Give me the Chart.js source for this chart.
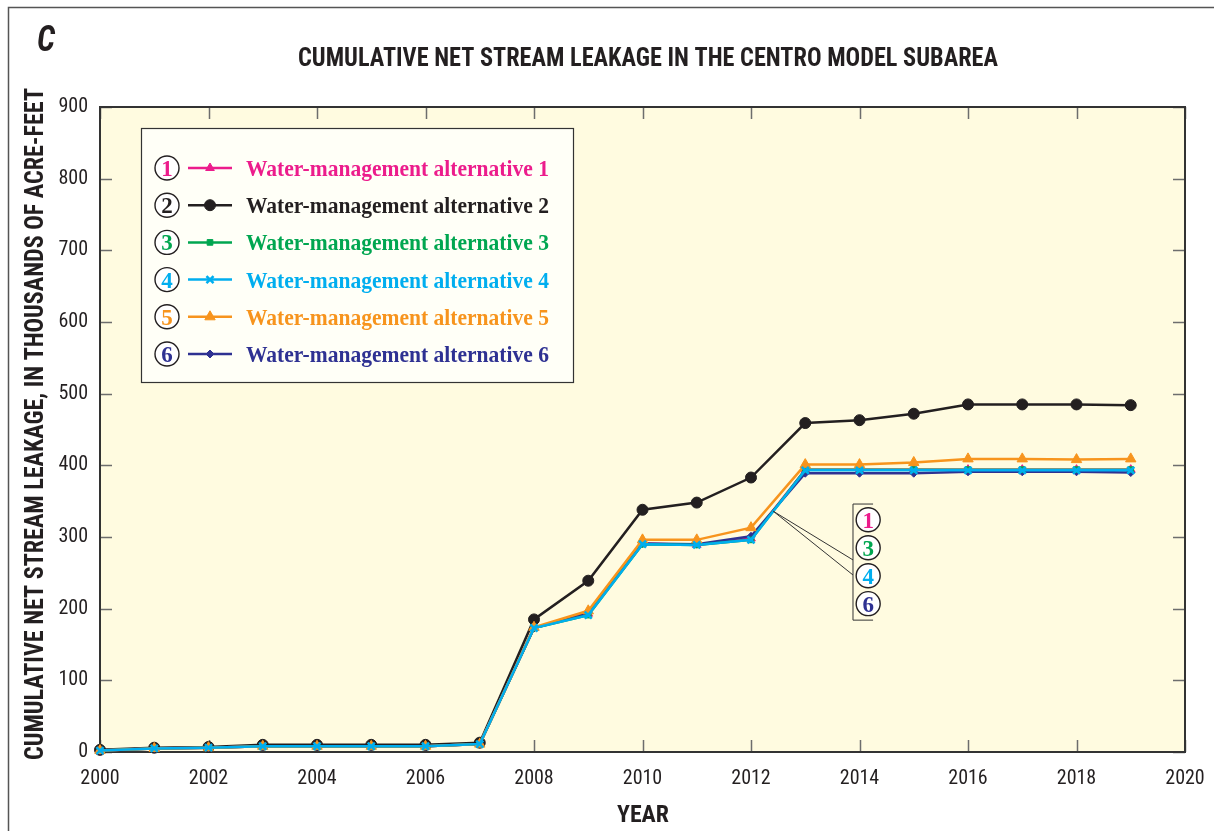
<!DOCTYPE html>
<html>
<head>
<meta charset="utf-8">
<script src="https://cdn.jsdelivr.net/npm/chart.js@4/dist/chart.umd.min.js"></script>
<style>
  html, body { margin: 0; padding: 0; background: #ffffff; }
  #wrap { width: 1214px; height: 831px; position: relative; }
</style>
</head>
<body>
<div id="wrap"><canvas id="c" width="1214" height="831"></canvas></div>
<script>
// ---------------- DATA ----------------
const years = [2000,2001,2002,2003,2004,2005,2006,2007,2008,2009,2010,2011,2012,2013,2014,2015,2016,2017,2018,2019];
const alt1 = [2,5,6,8,8,8,8,11,173,193,291,289,298,394,394,394,394,394,394,394];
const alt2 = [3,6,7,10,10,10,10,13,185,239,338,348,383,459,463,472,485,485,485,484];
const alt3 = [2,5,6,8,8,8,8,11,173,191,290,289,296,394,394,394,394,394,394,394];
const alt4 = [2,5,6,8,8,8,8,11,173,191,290,289,296,393,393,393,393,393,393,393];
const alt5 = [2,5,6,8,8,8,8,11,174,197,296,296,313,401,401,404,409,409,408,409];
const alt6 = [2,5,6,8,8,8,8,11,173,194,291,290,301,389,389,389,391,391,391,390];
const seriesLabels = [
  'Water-management alternative 1',
  'Water-management alternative 2',
  'Water-management alternative 3',
  'Water-management alternative 4',
  'Water-management alternative 5',
  'Water-management alternative 6'
];
const seriesNumbers = ['1','2','3','4','5','6'];
const xTickLabels = ['2000','2002','2004','2006','2008','2010','2012','2014','2016','2018','2020'];
const yTickLabels = ['0','100','200','300','400','500','600','700','800','900'];
const titleText = 'CUMULATIVE NET STREAM LEAKAGE IN THE CENTRO MODEL SUBAREA';
const yTitleText = 'CUMULATIVE NET STREAM LEAKAGE, IN THOUSANDS OF ACRE-FEET';
const xTitleText = 'YEAR';
const panelLetter = 'C';
const calloutNumbers = ['1','3','4','6'];

// ---------------- STYLE ----------------
const colors = ['#EC1C8C','#231F20','#00A650','#00AEEF','#F7941D','#2E3192'];
const pointStyles = ['triangle','circle','rect','crossRot','triangle','rectRot'];
const pointRadii = [5,5.5,4,5,6,4];
const drawOrder = [4,5,2,0,1,3];
const TEXT = '#231F20';
const PLOT_BG = '#FFFBE0';
const COND = '"Roboto Condensed", "Liberation Sans Narrow", "Arial Narrow", "Liberation Sans", sans-serif';
const SERIF = '"Liberation Serif", "Times New Roman", serif';

function mk(vals){ return vals.map((v,i)=>({x: years[i], y: v})); }
const allSeries = [alt1, alt2, alt3, alt4, alt5, alt6];

const datasets = allSeries.map((vals, i) => ({
  label: seriesLabels[i],
  data: mk(vals),
  borderColor: colors[i],
  backgroundColor: colors[i],
  borderWidth: 2.5,
  pointStyle: pointStyles[i],
  pointRadius: pointRadii[i],
  pointBorderWidth: pointStyles[i]==='crossRot' ? 2.5 : 1,
  pointHoverRadius: pointRadii[i],
  tension: 0,
  clip: false,
  order: drawOrder[i]
}));

function fitText(ctx, text, x, y, width, font, align){
  ctx.save();
  ctx.font = font;
  const w = ctx.measureText(text).width;
  const s = width / w;
  ctx.translate(x, y);
  ctx.scale(s, 1);
  ctx.textAlign = align || 'center';
  ctx.fillText(text, 0, 0);
  ctx.restore();
}

function circled(ctx, cx, cy, txt, color){
  ctx.beginPath();
  ctx.arc(cx, cy, 12, 0, Math.PI*2);
  ctx.fillStyle = '#ffffff';
  ctx.fill();
  ctx.strokeStyle = '#231F20';
  ctx.lineWidth = 1.4;
  ctx.stroke();
  ctx.fillStyle = color;
  ctx.font = 'bold 23px ' + SERIF;
  ctx.textAlign = 'center';
  ctx.fillText(txt, cx, cy + 8);
}

const decor = {
  id: 'decor',
  beforeDraw(chart){
    const {ctx, chartArea: a} = chart;
    ctx.save();
    ctx.fillStyle = '#ffffff';
    ctx.fillRect(0,0,chart.width,chart.height);
    ctx.strokeStyle = '#555555';
    ctx.lineWidth = 1.5;
    ctx.beginPath();
    ctx.moveTo(8.5, chart.height);
    ctx.lineTo(8.5, 7.5);
    ctx.lineTo(chart.width, 7.5);
    ctx.stroke();
    ctx.fillStyle = PLOT_BG;
    ctx.fillRect(a.left, a.top, a.right-a.left, a.bottom-a.top);
    ctx.restore();
  },
  beforeDatasetsDraw(chart){
    const {ctx, chartArea: a, scales} = chart;
    ctx.save();
    ctx.strokeStyle = '#6d6d6d';
    ctx.lineWidth = 1.5;
    const tl = 12;
    scales.y.ticks.forEach(t => {
      const py = Math.round(scales.y.getPixelForValue(t.value)) + 0.5;
      ctx.beginPath();
      ctx.moveTo(a.left, py); ctx.lineTo(a.left+tl, py);
      ctx.moveTo(a.right, py); ctx.lineTo(a.right-tl, py);
      ctx.stroke();
    });
    scales.x.ticks.forEach(t => {
      const px = Math.round(scales.x.getPixelForValue(t.value)) + 0.5;
      ctx.beginPath();
      ctx.moveTo(px, a.bottom); ctx.lineTo(px, a.bottom-tl);
      ctx.moveTo(px, a.top); ctx.lineTo(px, a.top+tl);
      ctx.stroke();
    });
    ctx.strokeStyle = '#333333';
    ctx.lineWidth = 2;
    ctx.strokeRect(a.left, a.top, a.right-a.left, a.bottom-a.top);
    ctx.restore();
  },
  afterDraw(chart){
    const {ctx, chartArea: a, scales} = chart;
    const xs = scales.x, ys = scales.y;
    ctx.save();
    ctx.fillStyle = TEXT;
    ctx.textBaseline = 'alphabetic';
    fitText(ctx, panelLetter, 46, 51, 18, 'italic bold 36px ' + COND, 'center');
    fitText(ctx, titleText, 648, 66, 700, 'bold 25px ' + COND, 'center');
    fitText(ctx, xTitleText, 643, 822, 52, 'bold 24px ' + COND, 'center');
    ctx.save();
    ctx.translate(43, 424);
    ctx.rotate(-Math.PI/2);
    fitText(ctx, yTitleText, 0, 0, 672, 'bold 25px ' + COND, 'center');
    ctx.restore();

    // legend
    const lx = a.left + 41, ly = a.top + 21, lw = 432, lh = 254;
    ctx.fillStyle = '#FFFFF7';
    ctx.fillRect(lx, ly, lw, lh);
    ctx.strokeStyle = '#333333';
    ctx.lineWidth = 1.2;
    ctx.strokeRect(lx+0.5, ly+0.5, lw, lh);
    const serifFont = 'bold 22.5px ' + SERIF;
    ctx.font = serifFont;
    const scaleW = 303 / ctx.measureText(seriesLabels[0]).width;
    const rowY0 = ly + 40, rowStep = 37.2;
    chart.data.datasets.forEach((ds, i) => {
      const cy = rowY0 + i*rowStep;
      const cx = lx + 26;
      circled(ctx, cx, cy, seriesNumbers[i], ds.borderColor);
      ctx.strokeStyle = ds.borderColor;
      ctx.lineWidth = 2.5;
      ctx.beginPath();
      ctx.moveTo(lx + 47, cy); ctx.lineTo(lx + 91, cy);
      ctx.stroke();
      ctx.fillStyle = ds.borderColor;
      ctx.lineWidth = ds.pointStyle==='crossRot' ? 2.5 : 1;
      Chart.helpers.drawPoint(ctx, {pointStyle: ds.pointStyle, radius: ds.pointRadius, rotation: 0, borderWidth: ctx.lineWidth}, lx + 69, cy);
      ctx.save();
      ctx.translate(lx + 105, cy + 8);
      ctx.scale(scaleW, 1);
      ctx.font = serifFont;
      ctx.textAlign = 'left';
      ctx.fillStyle = ds.borderColor;
      ctx.fillText(ds.label, 0, 0);
      ctx.restore();
    });

    // callout bracket for 1,3,4,6
    const bx = xs.getPixelForValue(2013.88);
    const bTop = ys.getPixelForValue(346), bBot = ys.getPixelForValue(184);
    const bEnd = xs.getPixelForValue(2014.25);
    ctx.strokeStyle = '#333333';
    ctx.lineWidth = 1;
    ctx.beginPath();
    ctx.moveTo(bEnd, bTop); ctx.lineTo(bx, bTop); ctx.lineTo(bx, bBot); ctx.lineTo(bEnd, bBot);
    ctx.stroke();
    const sx = xs.getPixelForValue(2012.41), sy = ys.getPixelForValue(336);
    ctx.beginPath();
    ctx.moveTo(sx, sy); ctx.lineTo(bx, ys.getPixelForValue(268));
    ctx.moveTo(sx, sy); ctx.lineTo(bx, ys.getPixelForValue(247));
    ctx.stroke();
    const ccx = xs.getPixelForValue(2014.16);
    const calloutVals = [324, 285, 246, 207];
    calloutNumbers.forEach((n, k) => {
      const idx = seriesNumbers.indexOf(n);
      circled(ctx, ccx, ys.getPixelForValue(calloutVals[k]), n, colors[idx]);
    });
    ctx.restore();
  }
};

const tickFont = { family: COND, size: 20 };

new Chart(document.getElementById('c'), {
  type: 'line',
  data: { datasets },
  options: {
    responsive: false,
    animation: false,
    devicePixelRatio: 1,
    layout: { padding: { left: 0, top: 107, right: 29, bottom: 0 } },
    plugins: { legend: { display: false }, title: { display: false }, tooltip: { enabled: false } },
    scales: {
      x: {
        type: 'linear', min: 2000, max: 2020,
        grid: { display: false, drawTicks: false },
        border: { display: false },
        ticks: {
          stepSize: 2, padding: 15, color: TEXT, font: tickFont, maxRotation: 0, autoSkip: false,
          callback: (v) => xTickLabels[xTickLabels.indexOf(String(v))] ?? ''
        },
        afterFit: (s) => { s.height = 79; s.paddingLeft = 0; s.paddingRight = 0; }
      },
      y: {
        min: 0, max: 900,
        grid: { display: false, drawTicks: false },
        border: { display: false },
        ticks: {
          stepSize: 100, padding: 12, color: TEXT, font: tickFont,
          callback: (v) => yTickLabels[yTickLabels.indexOf(String(v))] ?? ''
        },
        afterFit: (s) => { s.width = 100; s.paddingTop = 0; s.paddingBottom = 0; }
      }
    }
  },
  plugins: [decor]
});
</script>
</body>
</html>
